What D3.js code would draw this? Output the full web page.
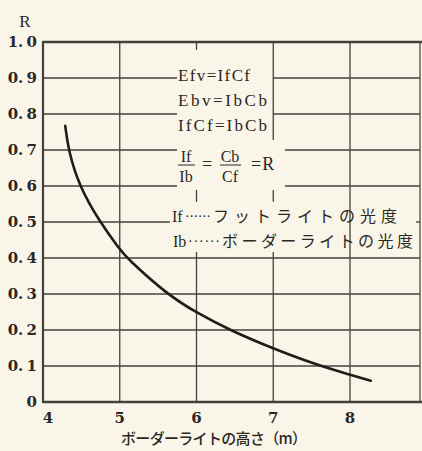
<!DOCTYPE html>
<html><head><meta charset="utf-8">
<script src="https://cdn.jsdelivr.net/npm/d3@7"></script>
<style>
html,body{margin:0;padding:0;background:#f9f6e9;}
svg{display:block;}
</style></head><body>
<svg id="c" width="422" height="451"></svg>
<script>
// data
const heights = [4.29, 4.33, 4.47, 4.74, 5.0, 5.09, 5.61, 6.0, 6.43, 7.0, 7.61, 8.0, 8.27];
const ratios  = [0.767, 0.70, 0.60, 0.50, 0.424, 0.40, 0.30, 0.248, 0.20, 0.148, 0.10, 0.076, 0.059];
const xTicks = [4, 5, 6, 7, 8];
const yTicks = [0, 0.1, 0.2, 0.3, 0.4, 0.5, 0.6, 0.7, 0.8, 0.9, 1.0];
const yTickLabels = ["0", "0. 1", "0. 2", "0. 3", "0. 4", "0. 5", "0. 6", "0. 7", "0. 8", "0. 9", "1. 0"];
const xTitle = "ボーダーライトの高さ（m）";
const yTitle = "R";
const formulas = ["Efv=IfCf", "Ebv=IbCb", "IfCf=IbCb"];
const noteSymbols = ["If", "Ib"];
const noteTexts = ["フットライトの光度", "ボーダーライトの光度"];

(function(){
const svg = d3.select("#c");
const L = 43, Rt = 420, T = 42, B = 402;
const x = d3.scaleLinear().domain([4, 8]).range([L, 350]);
const y = d3.scaleLinear().domain([0, 1]).range([B, T]);
const lineCol = "#45403c";
const textCol = "#2b2724";
const xEnd = x.invert(Rt);

const hGaps = {0.9:[x.invert(177), 7.0], 0.8:[x.invert(177), 7.0],
               0.7:[x.invert(177), x.invert(285)], 0.6:[x.invert(177), x.invert(285)],
               0.5:[x.invert(170), x.invert(416)]};
const g = svg.append("g");
yTicks.filter(v => v > 0 && v < 1).forEach(v => {
  const key = Math.round(v*10)/10;
  const gap = hGaps[key];
  const segs = gap ? [[4, gap[0]], [gap[1], xEnd]] : [[4, xEnd]];
  segs.forEach(s => g.append("line")
    .attr("x1", x(s[0])).attr("x2", x(s[1])).attr("y1", y(v)).attr("y2", y(v))
    .attr("stroke", lineCol).attr("stroke-width", 1.3));
});
const vSegs = {5:[[0,1]], 6:[[0,0.417],[0.556,0.589],[0.978,1]], 7:[[0,0.417],[0.556,0.589],[0.728,1]], 8:[[0,1]]};
[5,6,7,8].forEach(t => vSegs[t].forEach(s => g.append("line")
  .attr("x1", x(t)).attr("x2", x(t)).attr("y1", y(s[0])).attr("y2", y(s[1]))
  .attr("stroke", lineCol).attr("stroke-width", 1.3)));

g.append("line").attr("x1", L).attr("x2", L).attr("y1", y(1)-1).attr("y2", y(0)+1).attr("stroke", lineCol).attr("stroke-width", 2.2);
g.append("line").attr("x1", Rt).attr("x2", Rt).attr("y1", y(1)).attr("y2", y(0)).attr("stroke", lineCol).attr("stroke-width", 1.2);
g.append("line").attr("x1", L).attr("x2", 422).attr("y1", y(1)).attr("y2", y(1)).attr("stroke", lineCol).attr("stroke-width", 2.4);
g.append("line").attr("x1", L).attr("x2", 422).attr("y1", y(0)).attr("y2", y(0)).attr("stroke", lineCol).attr("stroke-width", 2.6);

const numFont = "'DejaVu Serif',serif";
const serif = "'Liberation Serif','DejaVu Serif',serif";
const cjk = "'Noto Sans CJK JP',sans-serif";
svg.append("g").selectAll("text").data(yTicks).join("text")
  .attr("x", 37).attr("y", d => y(d)).attr("dy", "0.36em")
  .attr("text-anchor", "end").attr("font-family", numFont).attr("font-weight", "bold")
  .attr("font-size", 15).attr("word-spacing", -2).attr("fill", textCol)
  .text((d, i) => yTickLabels[i]);
svg.append("g").selectAll("text").data(xTicks).join("text")
  .attr("x", d => x(d) + (d === 4 ? 5 : 0)).attr("y", 418).attr("dy", "0.36em")
  .attr("text-anchor", "middle").attr("font-family", numFont).attr("font-weight", "bold")
  .attr("font-size", 15).attr("fill", textCol)
  .text(d => d);
svg.append("text").attr("x", 25).attr("y", 21).attr("dy", "0.35em").attr("text-anchor", "middle")
  .attr("font-family", serif).attr("font-size", 17).attr("fill", textCol).text(yTitle);
svg.append("text").attr("x", 121).attr("y", 439).attr("dy", "0.36em")
  .attr("font-family", cjk).attr("font-size", 15).attr("font-weight", 500).attr("fill", textCol)
  .attr("textLength", 186).attr("lengthAdjust", "spacing").text(xTitle);

const fLens = [72, 89, 89];
formulas.forEach((f, i) => svg.append("text").attr("x", 178).attr("y", 75 + i*25).attr("dy", "0.35em")
  .attr("font-family", serif).attr("font-size", 17).attr("fill", textCol)
  .attr("textLength", fLens[i]).attr("lengthAdjust", "spacing").text(f));
const fr = svg.append("g").attr("font-family", serif).attr("font-size", 16).attr("fill", textCol);
fr.append("text").attr("x", 186).attr("y", 162).attr("text-anchor", "middle").text("If");
fr.append("text").attr("x", 186).attr("y", 182).attr("text-anchor", "middle").text("Ib");
fr.append("line").attr("x1", 178).attr("x2", 195).attr("y1", 165).attr("y2", 165).attr("stroke", textCol).attr("stroke-width", 1);
fr.append("text").attr("x", 207).attr("y", 170).attr("text-anchor", "middle").attr("font-size", 18).text("=");
fr.append("text").attr("x", 230).attr("y", 162).attr("text-anchor", "middle").text("Cb");
fr.append("text").attr("x", 230).attr("y", 182).attr("text-anchor", "middle").text("Cf");
fr.append("line").attr("x1", 220).attr("x2", 241).attr("y1", 165).attr("y2", 165).attr("stroke", textCol).attr("stroke-width", 1);
fr.append("text").attr("x", 251).attr("y", 170).attr("font-size", 18).attr("letter-spacing", 1).text("=R");

const noteX = [[172, 185, 213, 184], [173, 188, 222, 191]];
noteSymbols.forEach((s, i) => {
  const yy = 216 + i*25;
  const nx = noteX[i];
  svg.append("text").attr("x", nx[0]).attr("y", yy).attr("dy", "0.35em")
    .attr("font-family", serif).attr("font-size", 16).attr("fill", textCol).text(s);
  svg.append("text").attr("x", nx[1]).attr("y", yy).attr("dy", "0.35em")
    .attr("font-family", serif).attr("font-size", 14).attr("fill", textCol)
    .attr("textLength", nx[2]-nx[1]-2).attr("lengthAdjust", "spacing").text("······");
  svg.append("text").attr("x", nx[2]).attr("y", yy).attr("dy", "0.36em")
    .attr("font-family", cjk).attr("font-size", 16).attr("fill", textCol)
    .attr("textLength", nx[3]).attr("lengthAdjust", "spacing").text(noteTexts[i]);
});

const pts = heights.map((h, i) => [h, ratios[i]]);
svg.append("path").datum(pts)
  .attr("d", d3.line().x(d => x(d[0])).y(d => y(d[1])).curve(d3.curveBasis))
  .attr("fill", "none").attr("stroke", "#1f1c1a").attr("stroke-width", 2.6).attr("stroke-linecap", "round");
})();
</script>
</body></html>
